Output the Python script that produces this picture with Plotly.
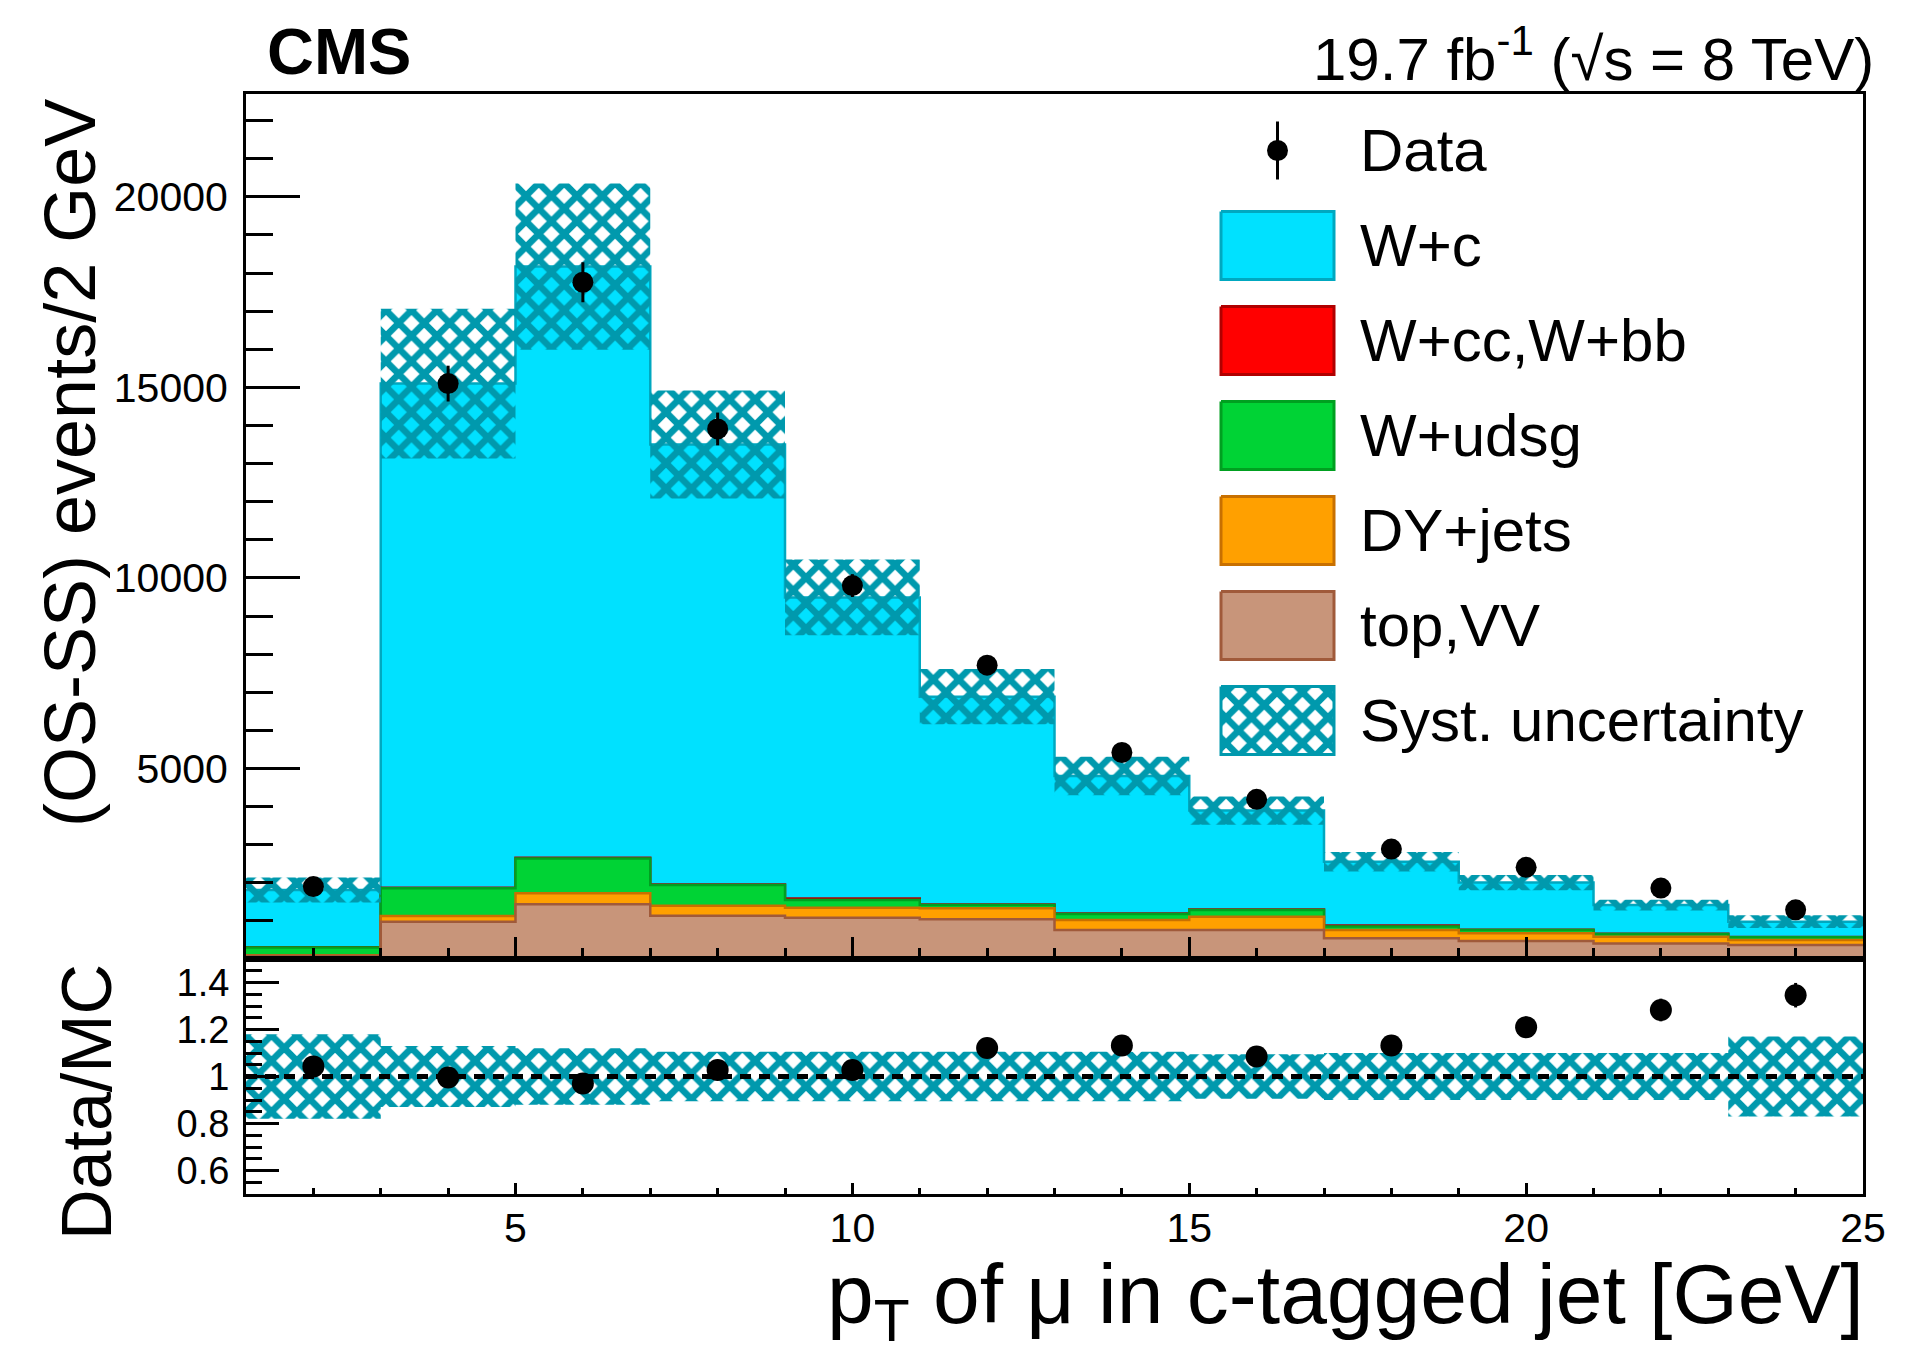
import numpy as np
import plotly.graph_objects as go

# ---------------- data ----------------
bin_edges = [1, 3, 5, 7, 9, 11, 13, 15, 17, 19, 21, 23, 25]
bin_centers = [2, 4, 6, 8, 10, 12, 14, 16, 18, 20, 22, 24]

top_vv = [85, 980, 1435, 1135, 1085, 1040, 760, 760, 545, 470, 410, 365]
dy_jets = [15, 150, 290, 265, 260, 290, 265, 350, 215, 205, 175, 135]
w_udsg = [200, 725, 915, 540, 205, 85, 155, 175, 90, 85, 70, 70]
w_ccbb = [10, 15, 15, 15, 40, 15, 15, 15, 30, 10, 10, 10]
w_c = [1500, 13230, 15515, 11545, 7900, 5455, 3610, 2595, 1675, 1235, 750, 400]

data_vals = [1900, 15100, 17760, 13910, 9800, 7710, 5420, 4190, 2885, 2405, 1860, 1290]
data_errs = [60, 470, 525, 430, 300, 240, 190, 150, 110, 90, 70, 50]

ratio_vals = [1.043, 0.996, 0.970, 1.028, 1.028, 1.121, 1.132, 1.085, 1.132, 1.210, 1.283, 1.346]
syst_rel = [0.18, 0.13, 0.12, 0.105, 0.105, 0.105, 0.105, 0.095, 0.10, 0.10, 0.10, 0.17]

legend_labels = ["Data", "W+c", "W+cc,W+bb", "W+udsg", "DY+jets", "top,VV", "Syst. uncertainty"]
ratio_tickvals = [0.6, 0.8, 1.0, 1.2, 1.4]
ratio_ticktext = ["0.6", "0.8", "1", "1.2", "1.4"]
main_tickvals = [5000, 10000, 15000, 20000]
main_ticktext = ["5000", "10000", "15000", "20000"]

# ---------------- styling ----------------
FONT = "Liberation Sans, Arial, Helvetica, sans-serif"
C_WC, L_WC = "#00E1FF", "#00A8C0"
C_CC, L_CC = "#FF0000", "#B00000"
C_UD, L_UD = "#00D335", "#00A020"
C_DY, L_DY = "#FFA000", "#C87000"
C_TV, L_TV = "#C8957A", "#A05A3A"
C_SYS = "#0099AD"

W, H = 1921, 1352
L, R, T, B = 246, 58, 94, 158
PW, PH = W - L - R, H - T - B
SPLIT = 959                      # pixel row of the main / ratio boundary
ratio_frac = (H - B - SPLIT) / PH


def px(x):
    return (x - L) / PW


def py(y):
    return (H - B - y) / PH


edges = np.array(bin_edges, dtype=float)

# cumulative stack (bottom -> top)
cum1 = np.array(top_vv, dtype=float)
cum2 = cum1 + np.array(dy_jets)
cum3 = cum2 + np.array(w_udsg)
cum4 = cum3 + np.array(w_ccbb)
cum5 = cum4 + np.array(w_c)


def step_y(v):
    return np.append(v, v[-1])


fig = go.Figure()

stack = [
    (cum5, C_WC, L_WC),
    (cum4, C_CC, L_CC),
    (cum3, C_UD, L_UD),
    (cum2, C_DY, L_DY),
    (cum1, C_TV, L_TV),
]
for vals, fc, lc in stack:
    fig.add_trace(go.Scatter(
        x=edges, y=step_y(vals), mode="lines", line=dict(shape="hv", color=lc, width=2.5),
        fill="tozeroy", fillcolor=fc, xaxis="x", yaxis="y", hoverinfo="skip"))


def band_xy(lo, hi):
    xs_up = np.repeat(edges, 2)[1:-1]
    ys_up = np.repeat(hi, 2)
    xs_lo = xs_up[::-1]
    ys_lo = np.repeat(lo, 2)[::-1]
    return np.concatenate([xs_up, xs_lo, xs_up[:1]]), np.concatenate([ys_up, ys_lo, ys_up[:1]])


pattern = dict(shape="x", fgcolor=C_SYS, bgcolor="rgba(0,0,0,0)", fgopacity=1,
               size=18, solidity=0.6, fillmode="replace")

rel = np.array(syst_rel)
bx, by = band_xy(cum5 * (1 - rel), cum5 * (1 + rel))
fig.add_trace(go.Scatter(x=bx, y=by, mode="lines", line=dict(width=0, color=C_SYS),
                         fill="toself", fillcolor="rgba(0,0,0,0)", fillpattern=pattern,
                         xaxis="x", yaxis="y", hoverinfo="skip"))

fig.add_trace(go.Scatter(
    x=bin_centers, y=data_vals, mode="markers",
    marker=dict(color="black", size=21),
    error_y=dict(type="data", array=data_errs, color="black", thickness=3, width=0),
    xaxis="x", yaxis="y"))

# ratio panel
rx, ry = band_xy(1 - rel, 1 + rel)
fig.add_trace(go.Scatter(x=rx, y=ry, mode="lines", line=dict(width=0, color=C_SYS),
                         fill="toself", fillcolor="rgba(0,0,0,0)", fillpattern=pattern,
                         xaxis="x2", yaxis="y2", hoverinfo="skip"))
ratio_err = np.array(ratio_vals) * np.array(data_errs) / np.array(data_vals)
fig.add_trace(go.Scatter(
    x=bin_centers, y=ratio_vals, mode="markers",
    marker=dict(color="black", size=22),
    error_y=dict(type="data", array=ratio_err, color="black", thickness=3, width=0),
    xaxis="x2", yaxis="y2"))

# ---------------- legend (drawn in a pixel-space overlay) ----------------
LEG_X0, LEG_X1 = 1221, 1334
LEG_TX = 1358
LEG_Y0, LEG_DY = 150.5, 95
LEG_HALF = 34
rows = [LEG_Y0 + i * LEG_DY for i in range(len(legend_labels))]

fig.add_trace(go.Scatter(
    x=[(LEG_X0 + LEG_X1) / 2], y=[rows[0]], mode="markers",
    marker=dict(color="black", size=21),
    error_y=dict(type="data", array=[29], color="black", thickness=3, width=0),
    xaxis="x3", yaxis="y3"))

leg_boxes = [(C_WC, L_WC), (C_CC, L_CC), (C_UD, L_UD), (C_DY, L_DY), (C_TV, L_TV)]
for i, (fc, lc) in enumerate(leg_boxes):
    c = rows[i + 1]
    fig.add_trace(go.Scatter(
        x=[LEG_X0, LEG_X1, LEG_X1, LEG_X0, LEG_X0],
        y=[c - LEG_HALF, c - LEG_HALF, c + LEG_HALF, c + LEG_HALF, c - LEG_HALF],
        mode="lines", line=dict(color=lc, width=3), fill="toself", fillcolor=fc,
        xaxis="x3", yaxis="y3", hoverinfo="skip"))
c = rows[6]
fig.add_trace(go.Scatter(
    x=[LEG_X0, LEG_X1, LEG_X1, LEG_X0, LEG_X0],
    y=[c - LEG_HALF, c - LEG_HALF, c + LEG_HALF, c + LEG_HALF, c - LEG_HALF],
    mode="lines", line=dict(color=C_SYS, width=3), fill="toself",
    fillcolor="rgba(0,0,0,0)", fillpattern=pattern,
    xaxis="x3", yaxis="y3", hoverinfo="skip"))

annotations = []
for lab, c in zip(legend_labels, rows):
    annotations.append(dict(text=lab, x=LEG_TX, y=c, xref="x3", yref="y3",
                            xanchor="left", yanchor="middle", showarrow=False,
                            font=dict(size=60, family=FONT, color="black")))

annotations += [
    dict(text="<b>CMS</b>", x=px(265), y=py(51), xref="paper", yref="paper",
         xanchor="left", yanchor="middle", showarrow=False,
         font=dict(size=65, family=FONT, color="black")),
    dict(text="19.7 fb<sup>-1</sup> (√s = 8 TeV)", x=px(1876), y=py(55), xref="paper", yref="paper",
         xanchor="right", yanchor="middle", showarrow=False,
         font=dict(size=60, family=FONT, color="black")),
    dict(text="(OS-SS) events/2 GeV", x=px(70), y=py(97), xref="paper", yref="paper",
         xanchor="center", yanchor="top", textangle=-90, showarrow=False,
         font=dict(size=72, family=FONT, color="black")),
    dict(text="Data/MC", x=px(87), y=py(1102), xref="paper", yref="paper",
         xanchor="center", yanchor="middle", textangle=-90, showarrow=False,
         font=dict(size=70, family=FONT, color="black")),
    dict(text="p<sub>T</sub> of μ in c-tagged jet [GeV]", x=px(1866), y=py(1300),
         xref="paper", yref="paper", xanchor="right", yanchor="middle", showarrow=False,
         font=dict(size=84, family=FONT, color="black")),
]

shapes = [dict(type="line", xref="x2 domain", x0=0, x1=1, yref="y2", y0=1, y1=1,
               line=dict(color="black", width=5, dash="11px,8px"))]

axis_common = dict(showline=True, linewidth=3, linecolor="black", mirror=True,
                   showgrid=False, zeroline=False, ticks="inside", tickcolor="black",
                   tickwidth=3)

fig.update_layout(
    width=W, height=H,
    margin=dict(l=L, r=R, t=T, b=B, pad=0),
    paper_bgcolor="white", plot_bgcolor="white",
    showlegend=False,
    font=dict(family=FONT, color="black"),
    xaxis=dict(domain=[0, 1], anchor="y", range=[1, 25], showticklabels=False,
               tick0=0, dtick=5, ticklen=22, matches="x2",
               minor=dict(ticks="inside", tick0=0, dtick=1, ticklen=11, tickwidth=3, tickcolor="black"),
               **axis_common),
    yaxis=dict(domain=[ratio_frac, 1], anchor="x", range=[0, 22700],
               tickmode="array", tickvals=main_tickvals, ticktext=main_ticktext, ticklen=54,
               tickfont=dict(size=41), ticklabelstandoff=7,
               minor=dict(ticks="inside", tick0=0, dtick=1000, ticklen=27, tickwidth=3, tickcolor="black"),
               **axis_common),
    xaxis2=dict(domain=[0, 1], anchor="y2", range=[1, 25],
                tick0=0, dtick=5, ticklen=11, tickfont=dict(size=41), ticklabelstandoff=-4,
                minor=dict(ticks="inside", tick0=0, dtick=1, ticklen=6, tickwidth=3, tickcolor="black"),
                **axis_common),
    yaxis2=dict(domain=[0, ratio_frac], anchor="x2", range=[0.5, 1.5],
                tickmode="array", tickvals=ratio_tickvals, ticktext=ratio_ticktext,
                ticklen=33, tickfont=dict(size=38), ticklabelstandoff=6,
                minor=dict(ticks="inside", tick0=0.5, dtick=0.05, ticklen=16, tickwidth=3, tickcolor="black"),
                **axis_common),
    xaxis3=dict(overlaying="x", anchor="y3", range=[L, W - R], visible=False),
    yaxis3=dict(overlaying="y", anchor="x3", range=[SPLIT, T], visible=False),
    annotations=annotations,
    shapes=shapes,
)

fig.write_html("out.html")
